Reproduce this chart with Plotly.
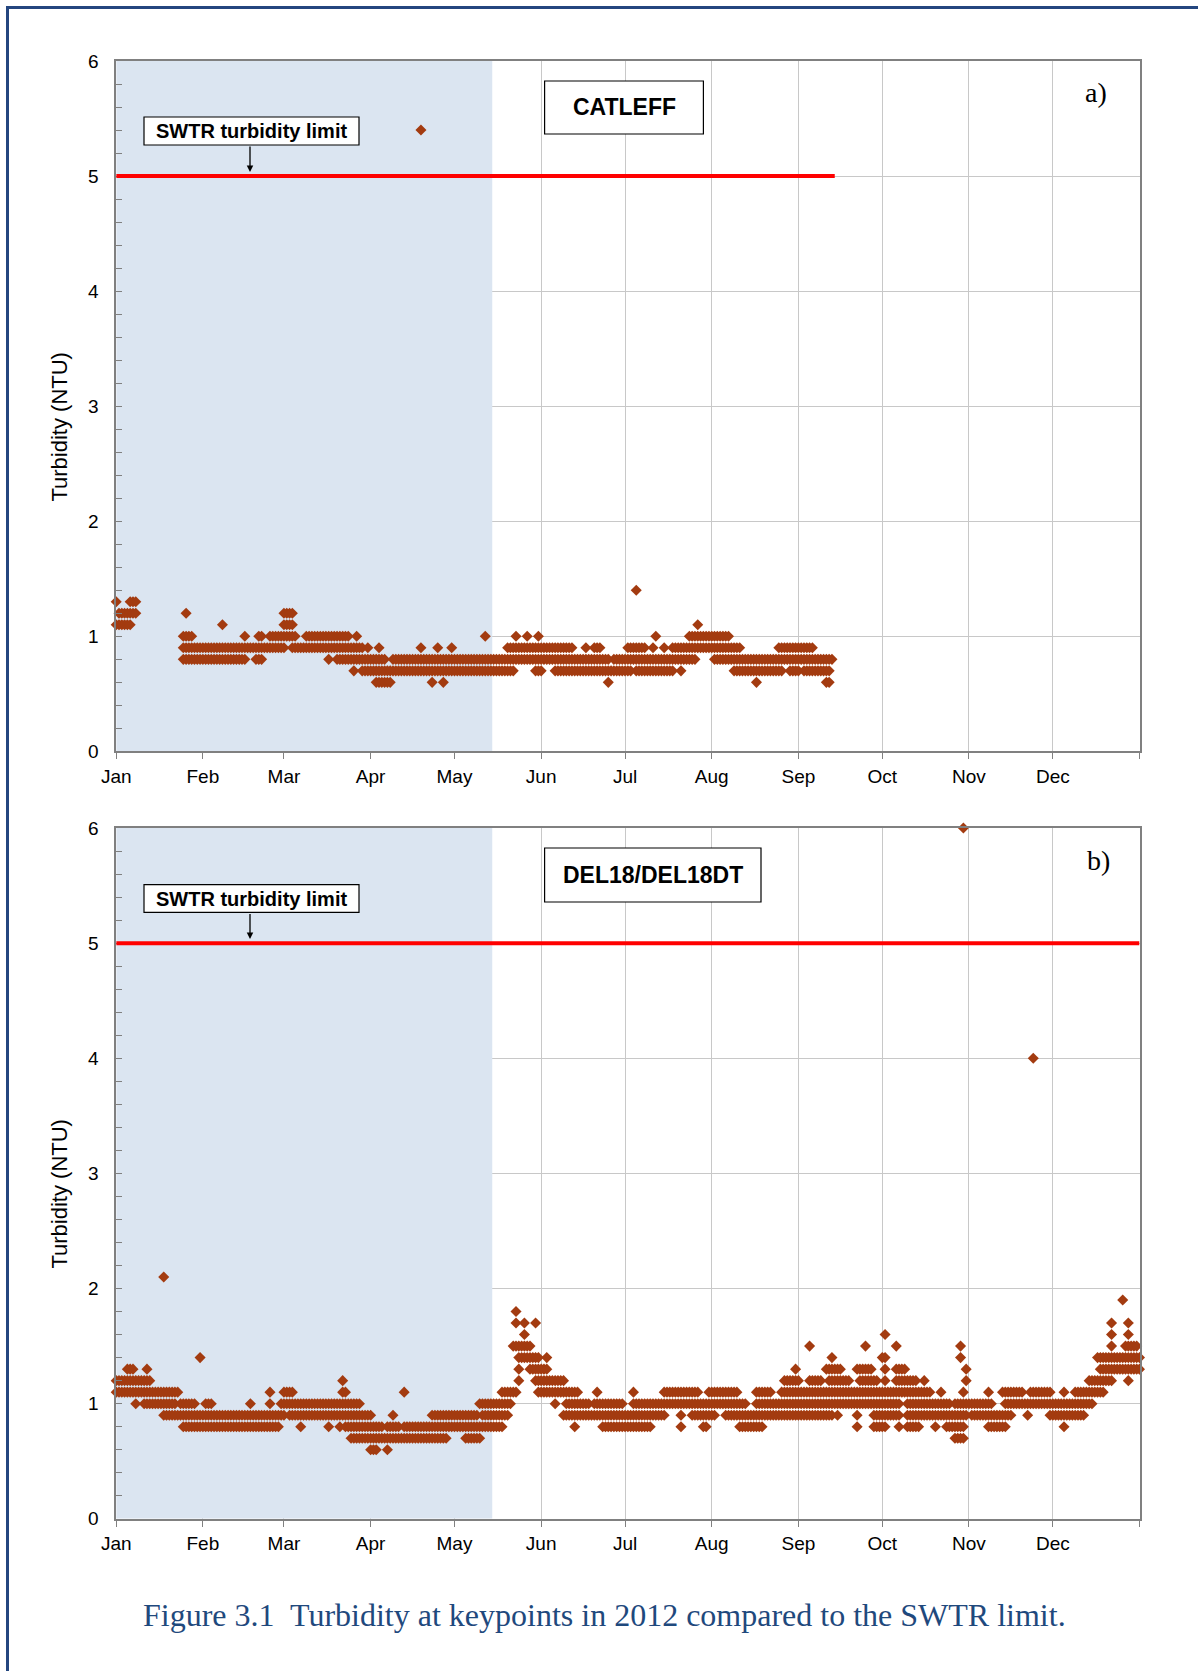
import pandas as pd
import plotly.graph_objects as go

W, H = 1198, 1671
BASE = pd.Timestamp("2012-01-01")

# ---------------- data ----------------
month_ticks = ["2012-01-01", "2012-02-01", "2012-03-01", "2012-04-01", "2012-05-01",
               "2012-06-01", "2012-07-01", "2012-08-01", "2012-09-01", "2012-10-01",
               "2012-11-01", "2012-12-01", "2013-01-01"]
month_labels = ["Jan", "Feb", "Mar", "Apr", "May", "Jun", "Jul", "Aug", "Sep",
                "Oct", "Nov", "Dec", ""]

# CATLEFF: turbidity level -> runs of day-of-year (0 = Jan 1) where that reading occurs
catleff_levels = [5.4, 1.4, 1.3, 1.2, 1.1, 1.0, 0.9, 0.8, 0.7, 0.6]
catleff_runs = [
    [(109, 109)],
    [(186, 186)],
    [(0, 0), (5, 7)],
    [(1, 7), (25, 25), (60, 63)],
    [(0, 5), (38, 38), (60, 63), (208, 208)],
    [(24, 27), (46, 46), (51, 52), (55, 64), (68, 83), (86, 86), (132, 132), (143, 143),
     (147, 147), (151, 151), (193, 193), (205, 219)],
    [(24, 60), (63, 88), (90, 90), (94, 94), (109, 109), (115, 115), (120, 120), (140, 163),
     (168, 168), (171, 173), (183, 189), (192, 192), (196, 196), (199, 223), (237, 249)],
    [(24, 46), (50, 52), (76, 76), (79, 96), (99, 176), (178, 207), (214, 256)],
    [(85, 85), (88, 142), (150, 152), (157, 184), (186, 199), (202, 202), (221, 238),
     (241, 244), (246, 255)],
    [(93, 98), (113, 113), (117, 117), (176, 176), (229, 229), (254, 255)],
]

# DEL18/DEL18DT
del18_levels = [6.0, 4.0, 2.1, 1.9, 1.8, 1.7, 1.6, 1.5, 1.4, 1.3, 1.2, 1.1, 1.0, 0.9, 0.8, 0.7, 0.6]
del18_runs = [
    [(303, 303)],
    [(328, 328)],
    [(17, 17)],
    [(360, 360)],
    [(143, 143)],
    [(143, 143), (146, 146), (150, 150), (356, 356), (362, 362)],
    [(146, 146), (275, 275), (356, 356), (362, 362)],
    [(142, 148), (248, 248), (268, 268), (279, 279), (302, 302), (356, 356), (361, 365)],
    [(30, 30), (144, 151), (154, 154), (256, 256), (274, 275), (302, 302), (351, 366)],
    [(4, 6), (11, 11), (144, 144), (148, 154), (243, 243), (254, 259), (265, 270), (275, 275),
     (279, 282), (304, 304), (352, 366)],
    [(0, 12), (81, 81), (144, 144), (150, 160), (239, 244), (248, 252), (255, 262), (266, 272),
     (275, 275), (279, 286), (289, 289), (304, 304), (348, 356), (362, 362)],
    [(0, 22), (55, 55), (60, 63), (81, 82), (103, 103), (138, 143), (151, 165), (172, 172),
     (185, 185), (196, 208), (212, 222), (229, 234), (238, 291), (295, 295), (303, 303),
     (312, 312), (317, 324), (327, 334), (339, 339), (343, 353)],
    [(7, 7), (10, 21), (23, 28), (32, 34), (48, 48), (55, 55), (59, 87), (130, 141), (157, 157),
     (161, 169), (171, 181), (185, 225), (229, 280), (283, 298), (300, 313), (318, 349)],
    [(17, 60), (62, 91), (99, 99), (113, 129), (131, 140), (160, 196), (202, 202), (206, 214),
     (218, 256), (258, 258), (265, 265), (271, 280), (283, 304), (306, 320), (326, 326),
     (334, 346)],
    [(24, 58), (66, 66), (76, 76), (80, 80), (82, 95), (97, 101), (103, 138), (164, 164),
     (174, 191), (202, 202), (210, 211), (223, 231), (265, 265), (271, 275), (280, 280),
     (283, 287), (293, 293), (297, 303), (312, 318), (339, 339)],
    [(84, 118), (125, 130), (300, 303)],
    [(91, 93), (97, 97)],
]

swtr_limit = 5.0
catleff_limit_end_day = 257
shade_end_day = 134.5


def expand(levels, runs):
    xs, ys = [], []
    for lv, rr in zip(levels, runs):
        for a, b in rr:
            for d in range(a, b + 1):
                xs.append(BASE + pd.Timedelta(days=d))
                ys.append(lv)
    return xs, ys


def px(p):
    return p / W


def py(p):
    return 1 - p / H


MARK = "#A33B10"
AXC = "#808080"
GRIDC = "#C8C8C8"
FONT = "Liberation Sans"
SERIF = "Liberation Serif"

fig = go.Figure()
for i, (lv, rn) in enumerate([(catleff_levels, catleff_runs), (del18_levels, del18_runs)]):
    xs, ys = expand(lv, rn)
    fig.add_trace(go.Scatter(
        x=xs, y=ys, mode="markers",
        xaxis="x" if i == 0 else "x2", yaxis="y" if i == 0 else "y2",
        marker=dict(symbol="diamond", size=8.5, color=MARK, line=dict(width=0)),
        cliponaxis=False, showlegend=False, hoverinfo="x+y"))

xdom = [px(116.2), px(1139.5)]
ydom_a = [py(751.4), py(61)]
ydom_b = [py(1518.8), py(828)]

xcommon = dict(
    type="date", domain=xdom, range=[BASE, pd.Timestamp("2013-01-01")],
    tickmode="array", tickvals=month_ticks, ticktext=month_labels,
    ticks="outside", ticklen=6, tickcolor=AXC, tickwidth=1,
    showline=True, linecolor=AXC, linewidth=1.5, mirror=True,
    showgrid=True, gridcolor=GRIDC, gridwidth=1, zeroline=False, automargin=False,
    tickfont=dict(family=FONT, size=19, color="#000000"), ticklabelstandoff=1,
)
ycommon = dict(
    range=[0, 6], tick0=0, dtick=1, ticks="inside", ticklen=6, tickcolor=AXC,
    minor=dict(dtick=0.2, ticks="inside", ticklen=6, tickcolor=AXC, showgrid=False),
    showline=True, linecolor=AXC, linewidth=1.5, mirror=True,
    showgrid=True, gridcolor=GRIDC, gridwidth=1, zeroline=False, automargin=False,
    tickfont=dict(family=FONT, size=19, color="#000000"), ticklabelstandoff=12,
)

fig.update_layout(
    width=W, height=H, autosize=False,
    margin=dict(l=0, r=0, t=0, b=0, pad=0, autoexpand=False),
    paper_bgcolor="white", plot_bgcolor="white", showlegend=False,
    xaxis=dict(**xcommon, anchor="y"),
    yaxis=dict(**ycommon, domain=ydom_a, anchor="x"),
    xaxis2=dict(**xcommon, anchor="y2"),
    yaxis2=dict(**ycommon, domain=ydom_b, anchor="x2"),
)

shapes = []
for xr, yr, end_day in [("x", "y", catleff_limit_end_day), ("x2", "y2", 366)]:
    shapes.append(dict(type="rect", xref=xr, yref=yr, x0=BASE,
                       x1=BASE + pd.Timedelta(days=shade_end_day), y0=0, y1=6,
                       fillcolor="#DBE5F1", line=dict(width=0), layer="between"))
    shapes.append(dict(type="line", xref=xr, yref=yr, x0=BASE,
                       x1=BASE + pd.Timedelta(days=end_day), y0=swtr_limit, y1=swtr_limit,
                       line=dict(color="#FF0000", width=4), layer="above"))

# label boxes (pixel positions)
boxes = [(144, 117, 359, 145), (544.6, 81, 703.4, 134),
         (144, 884.6, 359, 912.4), (544.6, 848, 761, 902)]
for x0, y0, x1, y1 in boxes:
    shapes.append(dict(type="rect", xref="paper", yref="paper", x0=px(x0), x1=px(x1),
                       y0=py(y1), y1=py(y0), fillcolor="white",
                       line=dict(color="#000000", width=1.2), layer="above"))
# outer page frame
shapes.append(dict(type="rect", xref="paper", yref="paper", x0=px(7.5), x1=px(1250),
                   y0=py(1720), y1=py(7.5), line=dict(color="#24467F", width=3),
                   fillcolor="rgba(0,0,0,0)", layer="above"))
fig.update_layout(shapes=shapes)

ann = []


def text(xp, yp, s, size, family=FONT, color="#000000", angle=0):
    ann.append(dict(xref="paper", yref="paper", x=px(xp), y=py(yp), text=s,
                    showarrow=False, xanchor="center", yanchor="middle", textangle=angle,
                    font=dict(family=family, size=size, color=color)))


text(251.5, 131, "<b>SWTR turbidity limit</b>", 20)
text(251.5, 898.5, "<b>SWTR turbidity limit</b>", 20)
text(624, 107.5, "<b>CATLEFF</b>", 23)
text(652.8, 875, "<b>DEL18/DEL18DT</b>", 23)
text(1096, 93, "a)", 28, SERIF)
text(1098, 860, "b)", 28, SERIF)
text(58.6, 427, "Turbidity (NTU)", 22, angle=-90)
text(58.6, 1194, "Turbidity (NTU)", 22, angle=-90)
text(604, 1615, "Figure 3.1  Turbidity at keypoints in 2012 compared to the SWTR limit.",
     32, SERIF, "#1F497D")

for y_top, y_tip in [(145, 172), (912.4, 939)]:
    ann.append(dict(xref="paper", yref="paper", x=px(250), y=py(y_tip), text="",
                    showarrow=True, ax=0, ay=-(y_tip - y_top), arrowhead=2, arrowsize=1,
                    arrowwidth=1.3, arrowcolor="#000000", standoff=0, startstandoff=0))

fig.update_layout(annotations=ann)
fig.write_html("out.html")
